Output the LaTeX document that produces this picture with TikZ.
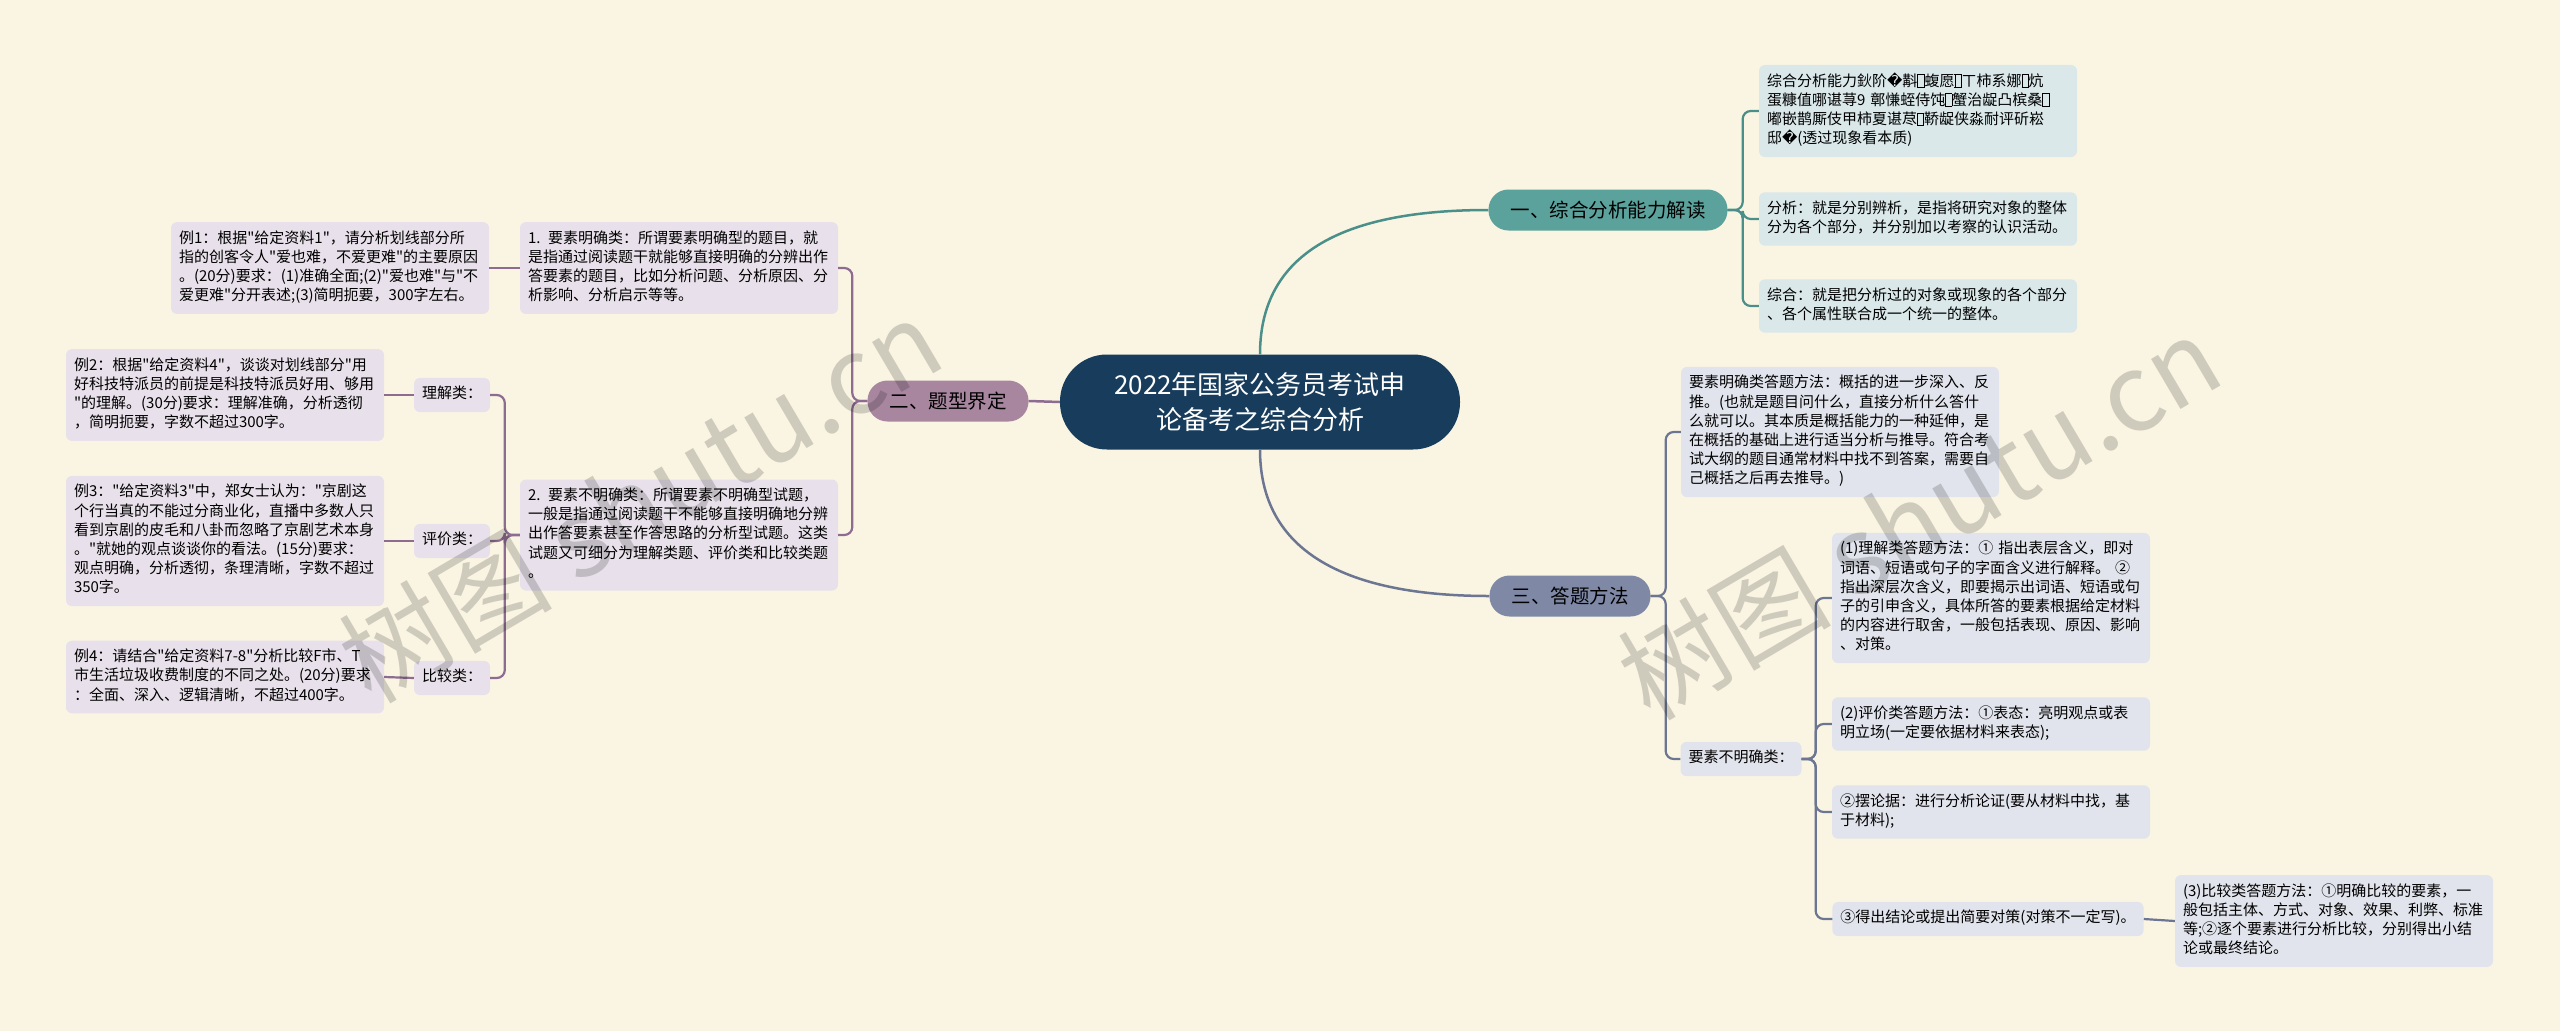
\documentclass[tikz,border=0pt]{standalone}
\usepackage{fontspec}
\setmainfont{Noto Sans CJK SC}[Ligatures=TeXOff]
\newfontfamily\symfont{DejaVu Sans}
\usepackage{xcolor}
\usetikzlibrary{positioning,calc}
\definecolor{paper}{HTML}{FAF5E3}
\definecolor{rootblue}{HTML}{173C5C}
\definecolor{tealfill}{HTML}{5BA29C}
\definecolor{tealline}{HTML}{4A8F8A}
\definecolor{tealleaf}{HTML}{DAE8EA}
\definecolor{plumfill}{HTML}{A8869F}
\definecolor{plumline}{HTML}{8E6C92}
\definecolor{plumleaf}{HTML}{E8E0EA}
\definecolor{slatefill}{HTML}{7F89A6}
\definecolor{slateline}{HTML}{6C7591}
\definecolor{slateleaf}{HTML}{E1E4EC}
\newcommand{\tofu}{{\fboxsep=0pt\fboxrule=0.7pt\fbox{\rule[-0.05em]{0pt}{0.8em}\hspace{0.38em}}}}
\newcommand{\badchar}{{\symfont\char"FFFD}}

\begin{document}
\begin{tikzpicture}[
    x=1pt, y=-1pt,
    every node/.style={font=\fontsize{15}{19.2}\selectfont, inner sep=0pt},
    leaf/.style={rounded corners=6pt, align=left, inner xsep=8pt, inner ysep=7.5pt,
      execute at begin node=\strut, execute at end node=\strut},
    wide/.style={leaf, text width=302pt},
    branch/.style={rounded corners=20pt, minimum height=41pt, inner xsep=22pt,
      font=\fontsize{19.5}{22}\selectfont},
    link/.style={line width=2.2pt, rounded corners=8pt},
    wmark/.style={text=black, text opacity=0.17, rotate=30.5,
      font=\fontsize{107}{110}\selectfont},
  ]
  \useasboundingbox (0,0) rectangle (2560,1031);
  \fill[paper] (0,0) rectangle (2560,1031);

  \node[fill=rootblue, text=white, rounded corners=47pt, minimum width=400pt,
    minimum height=95pt, align=center, font=\fontsize{26}{35}\selectfont]
    (root) at (1260,402) {2022年国家公务员考试申\\论备考之综合分析};

  \node[branch, fill=tealfill] (jiedu) at (1608,210) {一、综合分析能力解读};
  \node[branch, fill=plumfill] (jieding) at (948,401) {二、题型界定};
  \node[branch, fill=slatefill] (fangfa) at (1570,596) {三、答题方法};

  \node[wide, fill=tealleaf] (nengli) at (1918,111) {综合分析能力鈥阶\badchar 斠\tofu 蝮愿\tofu ㄒ柿系娜\tofu 炕\\蛋糠值哪谌荨9 鄣慊蛭侍饨\tofu 蟹治龊凸槟桑\tofu\\嘟嵌鹊厮伎甲柿夏谌荩\tofu 鞒龊侠淼耐评斫崧\\邸\badchar(透过现象看本质)};
  \node[wide, fill=tealleaf] (fenxi) at (1918,219) {分析：就是分别辨析，是指将研究对象的整体\\分为各个部分，并分别加以考察的认识活动。};
  \node[wide, fill=tealleaf] (zonghe) at (1918,306) {综合：就是把分析过的对象或现象的各个部分\\、各个属性联合成一个统一的整体。};

  \node[wide, fill=plumleaf] (mingque) at (679,268) {1. 要素明确类：所谓要素明确型的题目，就\\是指通过阅读题干就能够直接明确的分辨出作\\答要素的题目，比如分析问题、分析原因、分\\析影响、分析启示等等。};
  \node[wide, fill=plumleaf] (buming) at (679,535) {2. 要素不明确类：所谓要素不明确型试题，\\一般是指通过阅读题干不能够直接明确地分辨\\出作答要素甚至作答思路的分析型试题。这类\\试题又可细分为理解类题、评价类和比较类题\\。};
  \node[wide, fill=plumleaf] (li1) at (330,268) {例1：根据"给定资料1"，请分析划线部分所\\指的创客令人"爱也难，不爱更难"的主要原因\\。(20分)要求：(1)准确全面;(2)"爱也难"与"不\\爱更难"分开表述;(3)简明扼要，300字左右。};
  \node[leaf, fill=plumleaf] (lijie) at (452,395) {理解类：};
  \node[leaf, fill=plumleaf] (pingjia) at (452,541) {评价类：};
  \node[leaf, fill=plumleaf] (bijiao) at (452,678) {比较类：};
  \node[wide, fill=plumleaf] (li2) at (225,395) {例2：根据"给定资料4"，谈谈对划线部分"用\\好科技特派员的前提是科技特派员好用、够用\\"的理解。(30分)要求：理解准确，分析透彻\\，简明扼要，字数不超过300字。};
  \node[wide, fill=plumleaf] (li3) at (225,541) {例3："给定资料3"中，郑女士认为："京剧这\\个行当真的不能过分商业化，直播中多数人只\\看到京剧的皮毛和八卦而忽略了京剧艺术本身\\。"就她的观点谈谈你的看法。(15分)要求：\\观点明确，分析透彻，条理清晰，字数不超过\\350字。};
  \node[wide, fill=plumleaf] (li4) at (225,677) {例4：请结合"给定资料\mbox{7-8}"分析比较F市、T\\市生活垃圾收费制度的不同之处。(20分)要求\\：全面、深入、逻辑清晰，不超过400字。};

  \node[wide, fill=slateleaf] (mqfa) at (1840,432) {要素明确类答题方法：概括的进一步深入、反\\推。(也就是题目问什么，直接分析什么答什\\么就可以。其本质是概括能力的一种延伸，是\\在概括的基础上进行适当分析与推导。符合考\\试大纲的题目通常材料中找不到答案，需要自\\己概括之后再去推导。)};
  \node[leaf, fill=slateleaf] (bmfa) at (1741,759) {要素不明确类：};
  \node[wide, fill=slateleaf] (lijiefa) at (1991,598) {(1)理解类答题方法：① 指出表层含义，即对\\词语、短语或句子的字面含义进行解释。 ②\\指出深层次含义，即要揭示出词语、短语或句\\子的引申含义，具体所答的要素根据给定材料\\的内容进行取舍，一般包括表现、原因、影响\\、对策。};
  \node[wide, fill=slateleaf] (pingjiafa) at (1991,724) {(2)评价类答题方法：①表态：亮明观点或表\\明立场(一定要依据材料来表态);};
  \node[wide, fill=slateleaf] (lunju) at (1991,812) {②摆论据：进行分析论证(要从材料中找，基\\于材料);};
  \node[leaf, fill=slateleaf] (jielun) at (1988,919) {③得出结论或提出简要对策(对策不一定写)。};
  \node[wide, fill=slateleaf] (bijiaofa) at (2334,921) {(3)比较类答题方法：①明确比较的要素，一\\般包括主体、方式、对象、效果、利弊、标准\\等;②逐个要素进行分析比较，分别得出小结\\论或最终结论。};

  \draw[tealline, line width=2.5pt] (root.north) .. controls +(0,-110) and +(-130,0) .. (jiedu.west);
  \draw[slateline, line width=2.5pt] (root.south) .. controls +(0,110) and +(-130,0) .. (fangfa.west);
  \draw[plumline, line width=2.5pt] (root.west) -- (jieding.east);

  \draw[link, tealline] (jiedu.east) -- ++(15,0) |- (nengli.west);
  \draw[link, tealline] (jiedu.east) -- ++(15,0) |- (fenxi.west);
  \draw[link, tealline] (jiedu.east) -- ++(15,0) |- (zonghe.west);

  \draw[link, plumline] (jieding.west) -- ++(-15,0) |- (mingque.east);
  \draw[link, plumline] (jieding.west) -- ++(-15,0) |- (buming.east);
  \draw[link, plumline] (mingque.west) -- (li1.east);
  \draw[link, plumline] (buming.west) -- ++(-15,0) |- (lijie.east);
  \draw[link, plumline] (buming.west) -- ++(-15,0) |- (pingjia.east);
  \draw[link, plumline] (buming.west) -- ++(-15,0) |- (bijiao.east);
  \draw[link, plumline] (lijie.west) -- (li2.east);
  \draw[link, plumline] (pingjia.west) -- (li3.east);
  \draw[link, plumline] (bijiao.west) -- (li4.east);

  \draw[link, slateline] (fangfa.east) -- ++(15,0) |- (mqfa.west);
  \draw[link, slateline] (fangfa.east) -- ++(15,0) |- (bmfa.west);
  \draw[link, slateline] (bmfa.east) -- ++(14,0) |- (lijiefa.west);
  \draw[link, slateline] (bmfa.east) -- ++(14,0) |- (pingjiafa.west);
  \draw[link, slateline] (bmfa.east) -- ++(14,0) |- (lunju.west);
  \draw[link, slateline] (bmfa.east) -- ++(14,0) |- (jielun.west);
  \draw[link, slateline] (jielun.east) -- (bijiaofa.west);

  \node[wmark] (wmleft) at (640,500) {树图 shutu.cn};
  \node[wmark] (wmright) at (1919,517) {树图 shutu.cn};
\end{tikzpicture}
\end{document}
